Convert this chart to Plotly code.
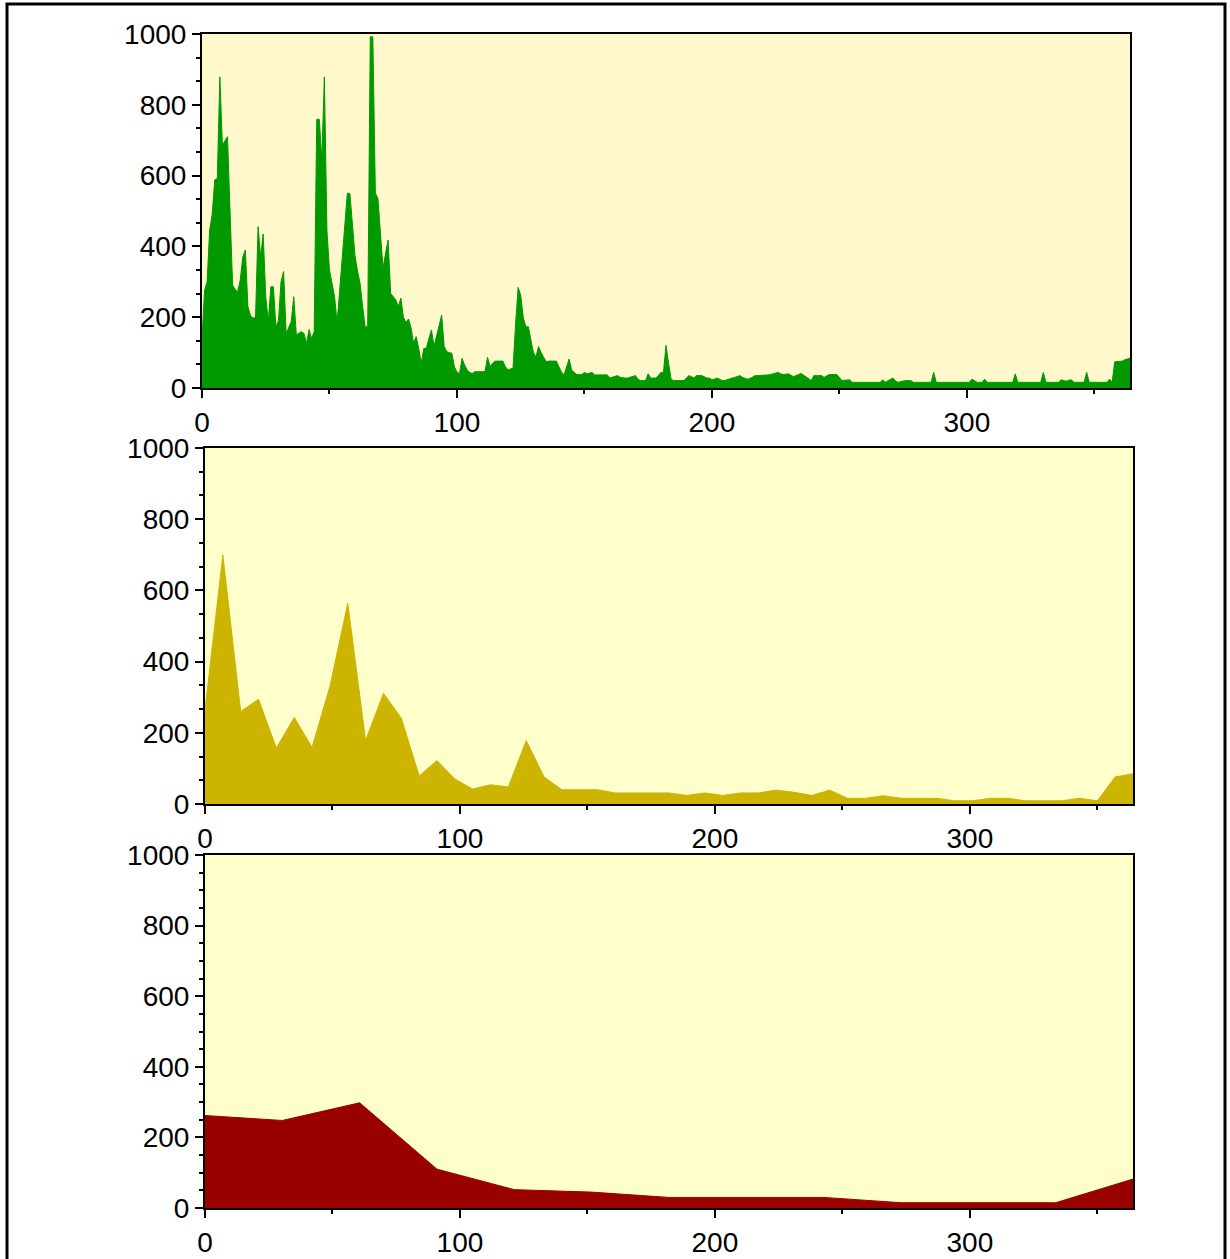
import plotly.graph_objects as go

# ---------------- data ----------------
daily_values = [
    140, 275, 300, 446, 490, 588, 592, 879, 686, 698,
    710, 500, 291, 278, 272, 305, 370, 390, 230, 205,
    197, 200, 456, 370, 435, 258, 187, 286, 286, 173,
    190, 300, 329, 154, 170, 187, 258, 150, 155, 159,
    154, 126, 165, 140, 159, 759, 759, 644, 879, 446,
    333, 300, 258, 184, 277, 362, 446, 550, 550, 450,
    374, 330, 296, 230, 173, 173, 992, 992, 550, 536,
    440, 338, 380, 418, 267, 258, 249, 230, 254, 200,
    185, 195, 170, 126, 145, 112, 70, 112, 112, 140,
    164, 117, 145, 175, 206, 117, 103, 100, 98, 60,
    45, 40, 84, 65, 51, 44, 41, 46, 46, 46,
    45, 46, 87, 60, 70, 76, 76, 76, 76, 60,
    51, 54, 56, 180, 284, 263, 200, 173, 173, 136,
    100, 88, 117, 100, 88, 74, 76, 76, 76, 76,
    60, 45, 37, 60, 82, 50, 44, 38, 38, 38,
    44, 40, 42, 44, 37, 37, 37, 37, 37, 37,
    28, 30, 33, 35, 30, 28, 28, 28, 30, 33,
    35, 25, 21, 21, 21, 40, 28, 28, 28, 35,
    44, 44, 120, 70, 25, 21, 21, 21, 21, 21,
    28, 35, 32, 28, 35, 35, 35, 32, 28, 28,
    23, 25, 28, 25, 21, 21, 24, 26, 28, 30,
    33, 35, 30, 28, 25, 27, 30, 35, 35, 35,
    35, 35, 37, 38, 40, 42, 44, 40, 38, 39,
    40, 36, 32, 35, 38, 41, 36, 30, 26, 21,
    35, 35, 35, 35, 30, 34, 38, 38, 38, 38,
    30, 21, 22, 23, 23, 16, 16, 16, 16, 16,
    16, 16, 16, 16, 16, 16, 16, 23, 16, 20,
    24, 28, 20, 16, 18, 20, 21, 21, 21, 16,
    16, 16, 16, 16, 16, 16, 16, 44, 16, 16,
    16, 16, 16, 16, 16, 16, 16, 16, 16, 16,
    16, 16, 25, 20, 16, 16, 16, 25, 16, 16,
    16, 16, 16, 16, 16, 16, 16, 16, 16, 40,
    16, 16, 16, 16, 16, 16, 16, 16, 16, 16,
    44, 16, 16, 16, 16, 16, 16, 23, 20, 19,
    22, 23, 16, 16, 16, 16, 16, 44, 16, 16,
    16, 16, 16, 16, 16, 16, 25, 16, 74, 74,
    74, 76, 80, 82, 84,
]
daily_days = list(range(len(daily_values)))

weekly_values = [
    264, 699, 260, 294, 157, 243, 159, 330, 564, 178,
    311, 241, 79, 122, 70, 42, 54, 48, 178, 76,
    40, 40, 40, 31, 31, 31, 31, 24, 31, 24,
    31, 31, 39, 33, 24, 39, 16, 16, 23, 16,
    16, 16, 9, 9, 16, 16, 9, 9, 9, 16,
    9, 76, 85,
]
weekly_days = [7 * i for i in range(len(weekly_values))]

monthly_values = [262, 248, 298, 110, 52, 45, 30, 30, 30, 15, 15, 15, 82]
monthly_days = [364 * i / 12 for i in range(len(monthly_values))]

x_tick_values = [0, 100, 200, 300]
y_tick_values = [0, 200, 400, 600, 800, 1000]

# ---------------- figure ----------------
W, H = 1230, 1259
FONT = dict(family="Liberation Sans, Arial, sans-serif", size=28, color="black")

fig = go.Figure()

panels = [
    # (x, y, fill colour, bg colour, px_left, px_right, px_top, px_bottom, y_minor_dtick)
    (daily_days, daily_values, "#009900", "#FFF8CC", 202, 1130, 34, 388, 200 / 3),
    (weekly_days, weekly_values, "#CCB400", "#FFFFCC", 205, 1133, 448, 804, 200 / 3),
    (monthly_days, monthly_values, "#990000", "#FFFFCC", 205, 1133, 855, 1208, 50),
]

for i, (xs, ys, fc, bg, l, r, t, b, ymin) in enumerate(panels, start=1):
    sfx = "" if i == 1 else str(i)
    fig.add_trace(go.Scatter(
        x=xs, y=ys, mode="lines", fill="tozeroy",
        line=dict(color=fc, width=1), fillcolor=fc,
        xaxis="x" + sfx, yaxis="y" + sfx, showlegend=False,
        hoverinfo="skip",
    ))
    xd = [l / W, r / W]
    yd = [1 - b / H, 1 - t / H]
    fig.layout["xaxis" + sfx] = dict(
        domain=xd, range=[0, 364], anchor="y" + sfx, automargin=False,
        tickvals=x_tick_values, ticks="outside", ticklen=8, tickwidth=2,
        tickcolor="black", showline=True, linewidth=2, linecolor="black",
        mirror=True, showgrid=False, zeroline=False, tickfont=FONT,
        minor=dict(tickvals=[50, 150, 250, 350], ticks="outside", ticklen=4,
                   tickwidth=2, tickcolor="black", showgrid=False),
        fixedrange=True,
    )
    fig.layout["yaxis" + sfx] = dict(
        domain=yd, range=[0, 1000], anchor="x" + sfx, automargin=False,
        tickvals=y_tick_values, ticks="outside", ticklen=8, tickwidth=2,
        tickcolor="black", showline=True, linewidth=2, linecolor="black",
        mirror=True, showgrid=False, zeroline=False, tickfont=FONT,
        minor=dict(dtick=ymin, tick0=0, ticks="outside", ticklen=4,
                   tickwidth=2, tickcolor="black", showgrid=False),
        fixedrange=True,
    )
    fig.add_shape(type="rect", xref="x" + sfx + " domain", yref="y" + sfx + " domain",
                  x0=0, x1=1, y0=0, y1=1, fillcolor=bg, line=dict(width=0),
                  layer="below")

# outer frame
fig.add_shape(type="rect", xref="paper", yref="paper",
              x0=7 / W, x1=1225 / W, y0=-0.05, y1=1 - 4 / H,
              line=dict(color="black", width=3), fillcolor="rgba(0,0,0,0)")

fig.update_layout(
    width=W, height=H,
    margin=dict(l=0, r=0, t=0, b=0, pad=0, autoexpand=False),
    paper_bgcolor="white", plot_bgcolor="white",
    font=FONT, showlegend=False,
)

fig.write_html("out.html", config={"displayModeBar": False},
               post_script="document.body.style.margin='0';")
